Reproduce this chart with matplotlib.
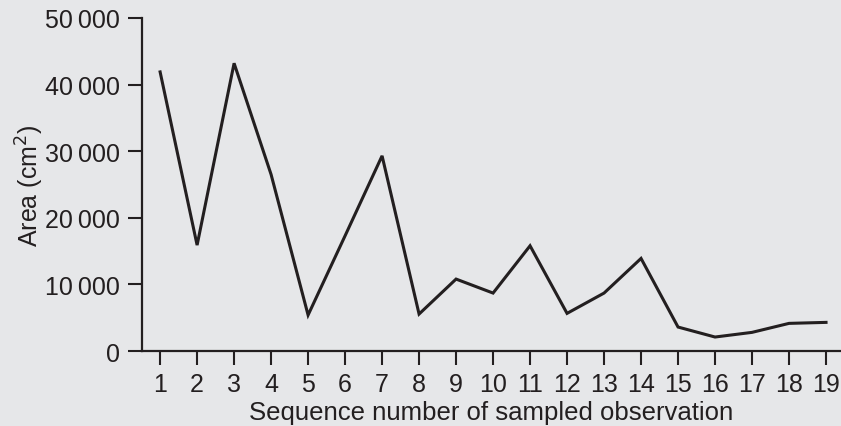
import matplotlib.pyplot as plt
from matplotlib.ticker import FuncFormatter

plt.rcParams['font.family'] = ['Liberation Sans', 'DejaVu Sans']

BG = '#e6e7e9'
INK = '#231f20'

observations = list(range(1, 20))
area = [41900, 15900, 43200, 26500, 5400, 17300, 29300, 5550, 10800, 8700,
        15800, 5650, 8700, 13900, 3600, 2100, 2800, 4150, 4300]
y_ticks = [0, 10000, 20000, 30000, 40000, 50000]


def thousands(v, pos):
    s = f'{int(v):,}'
    return s.replace(',', '\u2009')


fig = plt.figure(figsize=(8.41, 4.27), dpi=100, facecolor=BG)
ax = fig.add_axes([0.169, 0.1756, 0.831, 0.78], facecolor=BG)

ax.plot(observations, area, color=INK, linewidth=2.2, solid_joinstyle='miter')

ax.set_xlim(0.514, 19.405)
ax.set_ylim(0, 50000)
ax.set_xticks(observations)
ax.set_yticks(y_ticks)
ax.yaxis.set_major_formatter(FuncFormatter(thousands))

for side in ['top', 'right']:
    ax.spines[side].set_visible(False)
for side in ['left', 'bottom']:
    ax.spines[side].set_linewidth(1.6)
    ax.spines[side].set_color(INK)

ax.tick_params(axis='both', direction='out', length=10, width=1.5, color=INK,
               labelcolor=INK, labelsize=18)
ax.tick_params(axis='y', pad=6)
ax.tick_params(axis='x', pad=5)

ax.set_ylabel('Area (cm$^2$)', fontsize=18, color=INK)
ax.yaxis.set_label_coords(-0.138, 0.5)
ax.set_xlabel('Sequence number of sampled observation', fontsize=18.5, color=INK, labelpad=3)

fig.savefig('out.png', dpi=100, facecolor=BG)
